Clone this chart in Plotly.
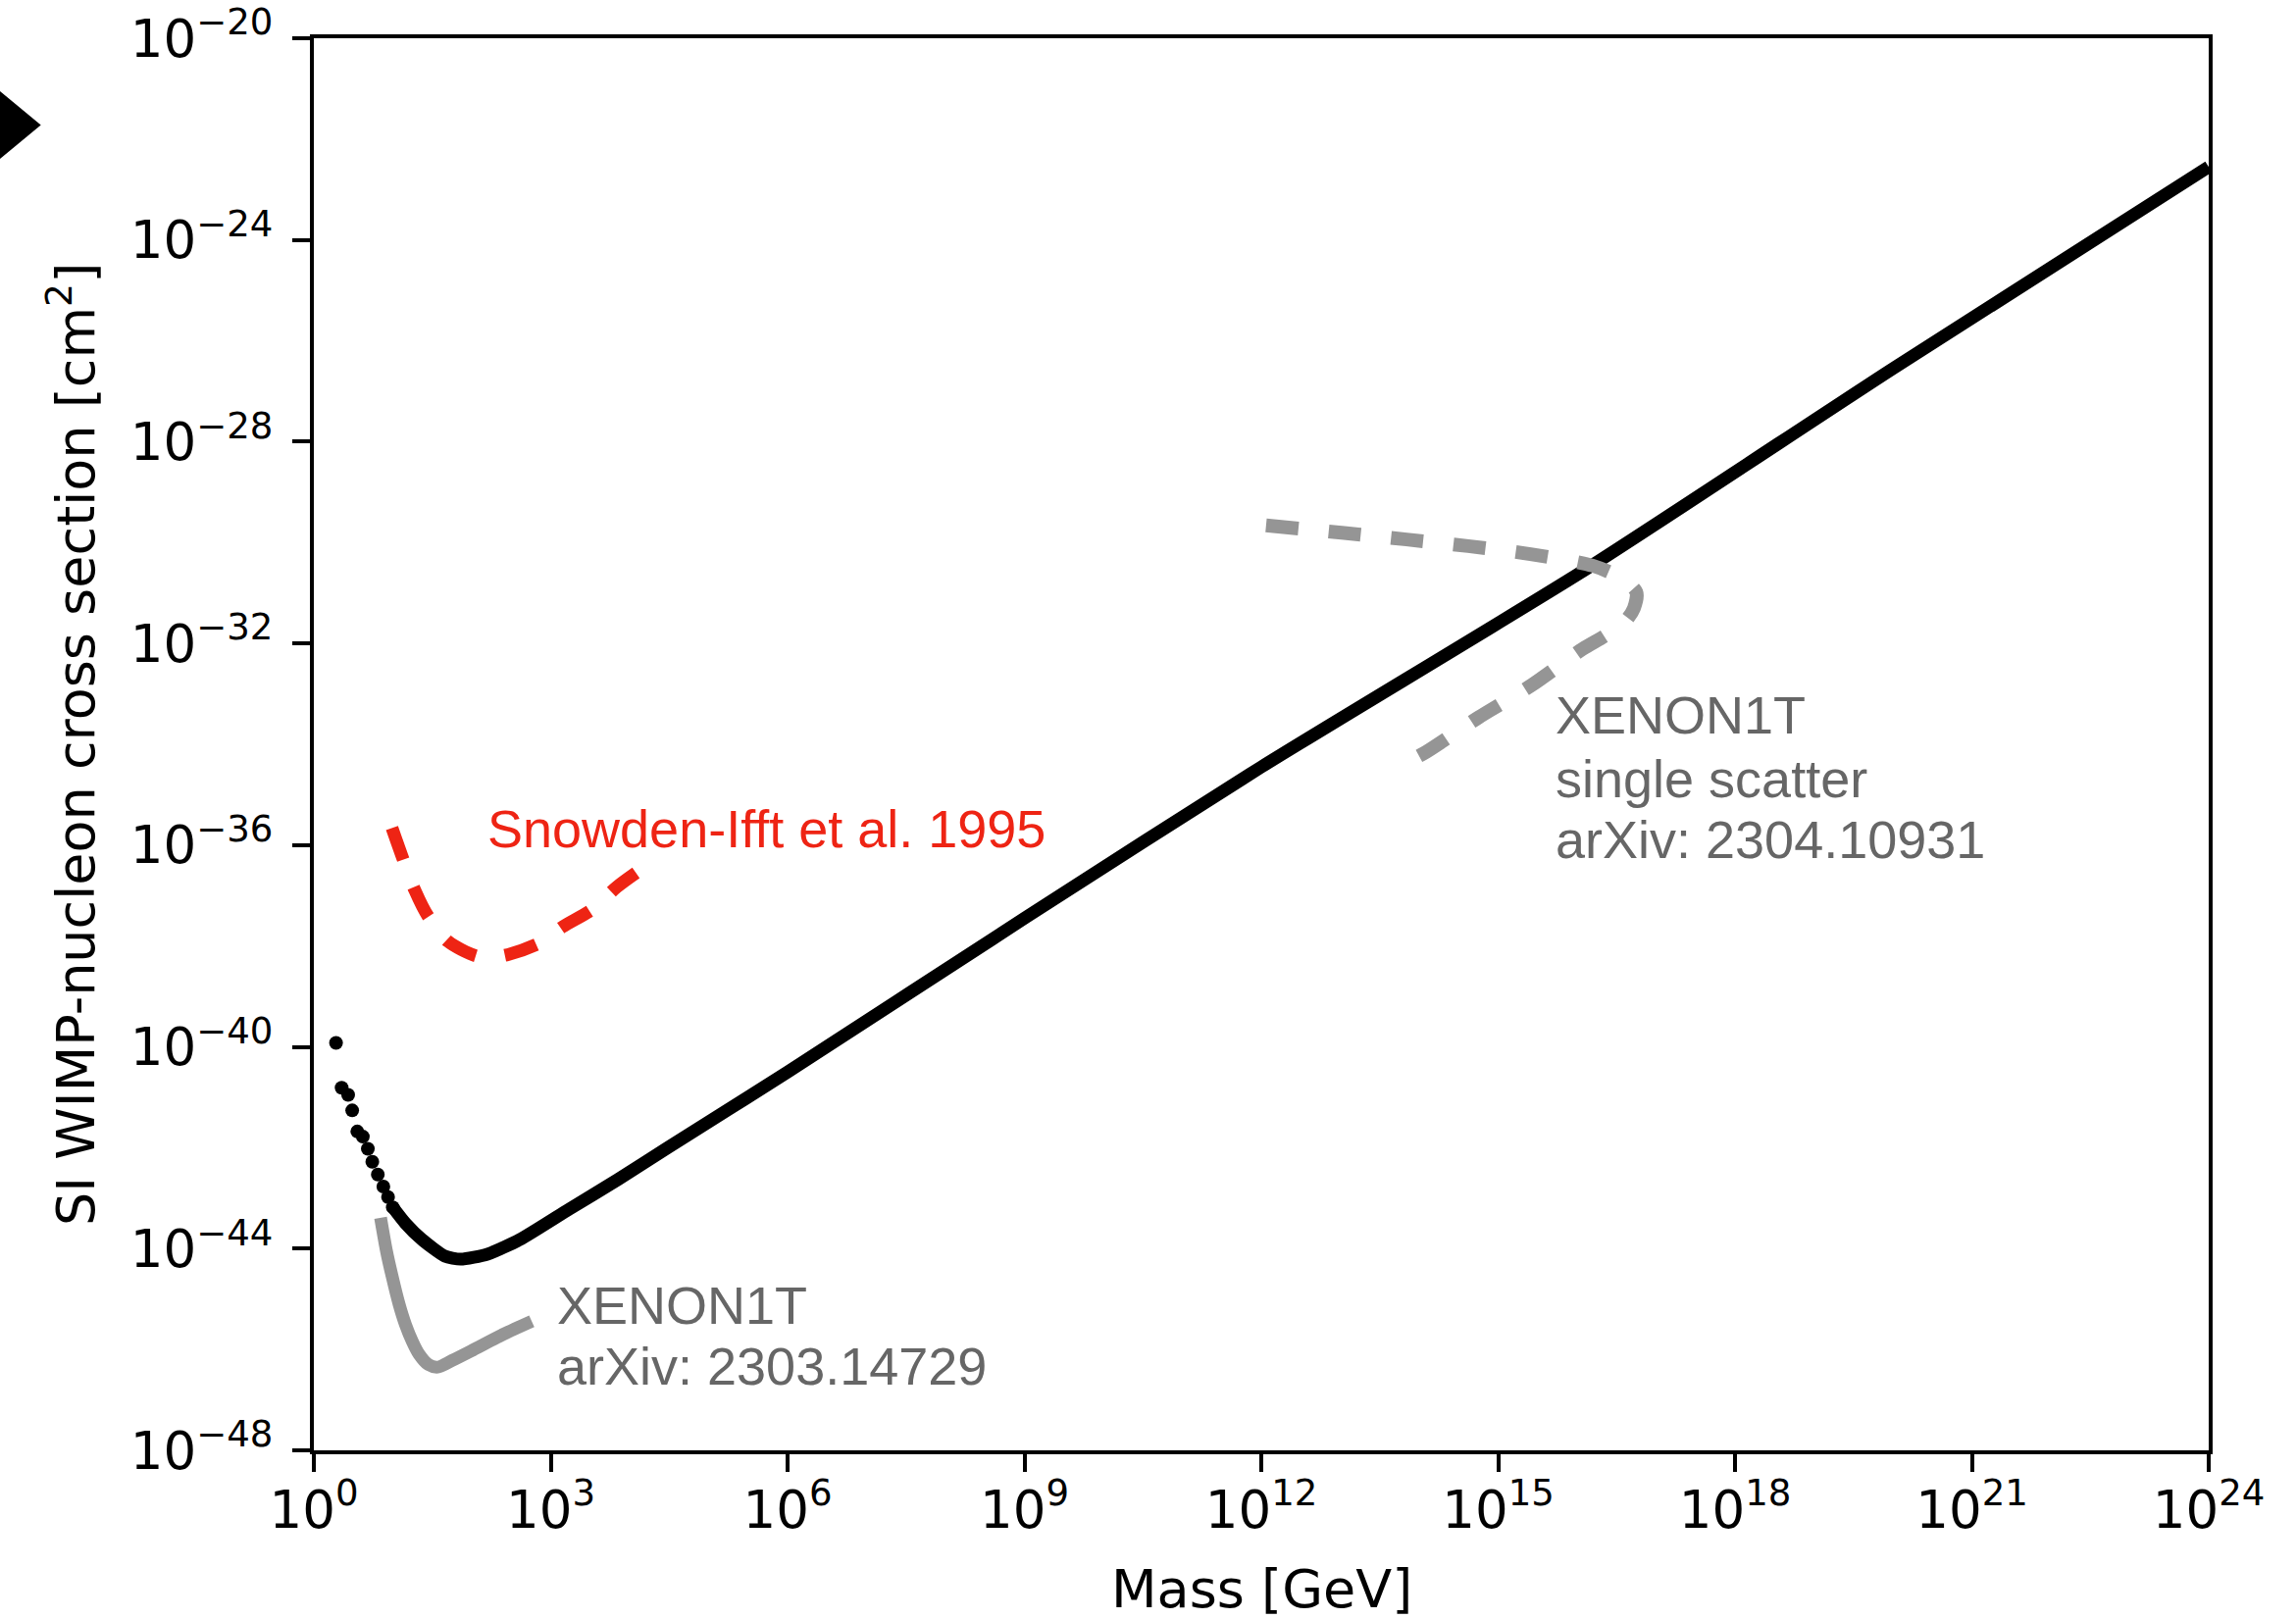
import plotly.graph_objects as go

# ---------------- data ----------------
# Upper-limit curve: sparse dots at low mass
dots_mass_gev = [1.91, 2.25, 2.72, 3.06, 3.55, 4.17, 4.83, 5.50, 6.46, 7.59, 8.71, 10.0]
dots_sigma_cm2 = [1.2e-40, 1.55e-41, 1.12e-41, 5.5e-42, 2.1e-42, 1.66e-42,
                  9.5e-43, 5.25e-43, 2.95e-43, 1.7e-43, 1.05e-43, 6.6e-44]

# Upper-limit curve: dense part (drawn as continuous line)
line_mass_gev = [10.0, 14.5, 23.4, 45.7, 72.4, 158, 407, 1700, 7080, 29500,
                 1e6, 1e9, 1e12, 1.32e16, 1e20, 1e24]
line_sigma_cm2 = [6.6e-44, 3.16e-44, 1.51e-44, 7.08e-45, 6.17e-45, 7.76e-45,
                  1.51e-44, 6.0e-44, 2.34e-43, 9.77e-43,
                  3.16e-41, 3.55e-38, 3.55e-35, 3.02e-31, 2.82e-27, 2.82e-23]

# XENON1T arXiv:2303.14729 (solid grey)
xe1_mass_gev = [7.0, 8.32, 9.77, 12.0, 14.5, 17.8, 21.4, 28.2, 37.2, 56.2, 97.7, 251, 575]
xe1_sigma_cm2 = [4.07e-44, 8.91e-45, 2.88e-45, 7.94e-46, 3.09e-46, 1.41e-46, 8.13e-47,
                 5.01e-47, 4.47e-47, 6.03e-47, 9.33e-47, 2.0e-46, 3.63e-46]

# Snowden-Ifft et al. 1995 (dashed red)
sn_mass_gev = [9.77, 13.8, 19.1, 28.2, 50.1, 115, 182, 288, 724, 1413, 3467, 6761, 12023]
sn_sigma_cm2 = [2.19e-36, 4.79e-37, 1.26e-37, 3.80e-38, 1.23e-38, 6.31e-39, 6.03e-39,
                6.76e-39, 1.15e-38, 2.40e-38, 5.50e-38, 1.45e-37, 2.82e-37]

# XENON1T single scatter arXiv:2304.10931 (dashed grey)
xe2_mass_gev = [1.15e12, 1.12e13, 6.92e13, 4.17e14, 2.57e15, 1.58e16, 3.55e16, 5.62e16,
                5.25e16, 4.07e16, 2.24e16, 1.17e16, 2.69e15, 5.62e14, 1.23e14, 7.76e13]
xe2_sigma_cm2 = [2.19e-30, 1.55e-30, 1.15e-30, 8.51e-31, 5.89e-31, 3.47e-31, 2.0e-31, 1.05e-31,
                 5.01e-32, 2.75e-32, 1.41e-32, 7.76e-33, 1.51e-33, 3.39e-34, 7.08e-35, 4.79e-35]

# axis ticks
x_tick_exp = [0, 3, 6, 9, 12, 15, 18, 21, 24]
y_tick_exp = [-20, -24, -28, -32, -36, -40, -44, -48]

# ---------------- styles ----------------
BLACK = "#000000"
GREY_LINE = "#959595"
GREY_TEXT = "#666666"
RED = "#EE2414"
TICK_FONT = dict(family="DejaVu Sans", size=53, color="black")
ANN_FONT = "Liberation Sans"
ANN_SIZE = 54

W, H = 2341, 1651
L, R, T, B = 320, 89, 39, 172


def sup(e):
    s = str(e).replace("-", "\u2212")
    return f"10<sup>{s}</sup>"


fig = go.Figure()

fig.add_trace(go.Scatter(x=line_mass_gev, y=line_sigma_cm2, mode="lines",
                         line=dict(color=BLACK, width=13, shape="spline", smoothing=0.6),
                         showlegend=False))
fig.add_trace(go.Scatter(x=dots_mass_gev, y=dots_sigma_cm2, mode="markers",
                         marker=dict(color=BLACK, size=14, line=dict(width=0)),
                         showlegend=False))
fig.add_trace(go.Scatter(x=xe1_mass_gev, y=xe1_sigma_cm2, mode="lines",
                         line=dict(color=GREY_LINE, width=13, shape="spline", smoothing=0.8),
                         showlegend=False))
fig.add_trace(go.Scatter(x=sn_mass_gev, y=sn_sigma_cm2, mode="lines",
                         line=dict(color=RED, width=13, shape="spline", smoothing=0.8,
                                   dash="34px,30px"),
                         showlegend=False))
fig.add_trace(go.Scatter(x=xe2_mass_gev, y=xe2_sigma_cm2, mode="lines",
                         line=dict(color=GREY_LINE, width=14, shape="spline", smoothing=0.8,
                                   dash="33px,31px"),
                         showlegend=False))

axis_common = dict(type="log", showline=True, linecolor="black", linewidth=4, mirror=True,
                   ticks="outside", ticklen=18, tickwidth=4, tickcolor="black",
                   showgrid=False, zeroline=False, tickfont=TICK_FONT, tickmode="array",
                   automargin=False)

fig.update_xaxes(range=[0, 24], tickvals=[10.0 ** e for e in x_tick_exp],
                 ticktext=[sup(e) for e in x_tick_exp], ticklabelstandoff=-7, **axis_common)
fig.update_yaxes(range=[-48, -20], tickvals=[10.0 ** e for e in y_tick_exp],
                 ticktext=[sup(e) for e in y_tick_exp], ticklabelstandoff=9, **axis_common)

pw = W - L - R
ph = H - T - B


def px2paper_x(px):
    return (px - L) / pw


def px2paper_y(py):
    return (H - B - py) / ph


def ann(text, x, y, color):
    return dict(text=text, x=x, y=y, xref="x", yref="y", xanchor="left", yanchor="middle",
                showarrow=False, font=dict(family=ANN_FONT, size=ANN_SIZE, color=color))


annotations = [
    dict(text="Mass [GeV]", x=0.5, y=px2paper_y(1620), xref="paper", yref="paper",
         xanchor="center", yanchor="middle", showarrow=False,
         font=dict(family="DejaVu Sans", size=54, color="black")),
    dict(text="SI WIMP-nucleon cross section [cm<sup>2</sup>]", x=px2paper_x(73), y=0.5,
         xref="paper", yref="paper", xanchor="center", yanchor="middle", textangle=-90,
         showarrow=False, font=dict(family="DejaVu Sans", size=54, color="black")),
    ann("Snowden-Ifft et al. 1995", 2.175, -35.672, RED),
    ann("XENON1T", 15.705, -33.417, GREY_TEXT),
    ann("single scatter", 15.705, -34.68, GREY_TEXT),
    ann("arXiv: 2304.10931", 15.705, -35.886, GREY_TEXT),
    ann("XENON1T", 3.05, -45.122, GREY_TEXT),
    ann("arXiv: 2303.14729", 3.05, -46.328, GREY_TEXT),
]

# black triangle at the top-left edge of the figure
tri = [(-10, 84.7), (41.7, 127.5), (-10, 170.3)]
path = "M " + " L ".join(f"{px2paper_x(a):.5f},{px2paper_y(b):.5f}" for a, b in tri) + " Z"

fig.update_layout(
    width=W, height=H,
    margin=dict(l=L, r=R, t=T, b=B, pad=0, autoexpand=False),
    paper_bgcolor="white", plot_bgcolor="white",
    annotations=annotations,
    shapes=[dict(type="path", path=path, xref="paper", yref="paper",
                 fillcolor="black", line=dict(width=0), layer="above")],
    showlegend=False,
)

fig.write_html("out.html", config={"displayModeBar": False},
               post_script="document.body.style.margin='0';document.body.style.padding='0';")
